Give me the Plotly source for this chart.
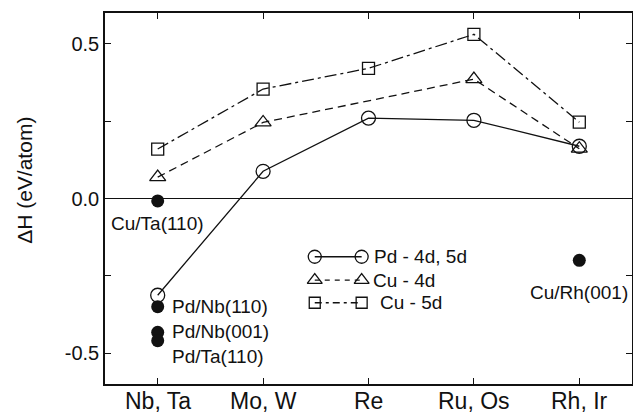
import plotly.graph_objects as go

# Hosts along the x axis
hosts = ["Nb, Ta", "Mo, W", "Re", "Ru, Os", "Rh, Ir"]
host_idx = [0, 1, 2, 3, 4]

# Formation enthalpies (eV/atom)
pd_4d5d = [-0.313, 0.088, 0.260, 0.253, 0.169]
cu_4d_x = [0, 1, 3, 4]
cu_4d = [0.069, 0.246, 0.386, 0.161]
cu_5d = [0.160, 0.354, 0.421, 0.531, 0.247]

# Reference systems (filled symbols)
ref_names = ["Cu/Ta(110)", "Pd/Nb(110)", "Pd/Nb(001)", "Pd/Ta(110)", "Cu/Rh(001)"]
ref_x = [0, 0, 0, 0, 4]
ref_y = [-0.008, -0.350, -0.433, -0.460, -0.200]

FONT = "Liberation Sans, Arial, sans-serif"
LW = 1.3
BLACK = "#111111"

fig = go.Figure()

fig.add_trace(go.Scatter(
    x=host_idx, y=pd_4d5d, mode="lines+markers", name="Pd - 4d, 5d",
    line=dict(color=BLACK, width=LW),
    marker=dict(symbol="circle-open", size=14, color=BLACK, line=dict(width=1.3)),
))
fig.add_trace(go.Scatter(
    x=cu_4d_x, y=cu_4d, mode="lines+markers", name="Cu - 4d",
    line=dict(color=BLACK, width=LW, dash="8px,5px"),
    marker=dict(symbol="triangle-up-open", size=14, color=BLACK, line=dict(width=1.3)),
))
fig.add_trace(go.Scatter(
    x=host_idx, y=cu_5d, mode="lines+markers", name="Cu - 5d",
    line=dict(color=BLACK, width=LW, dash="12px,4px,3px,4px"),
    marker=dict(symbol="square-open", size=12, color=BLACK, line=dict(width=1.3)),
))
fig.add_trace(go.Scatter(
    x=ref_x, y=ref_y, mode="markers", name="reference",
    marker=dict(symbol="circle", size=13, color=BLACK),
))

# Labels next to the filled symbols
label_offsets = {
    "Cu/Ta(110)": dict(xanchor="center", xshift=0, yshift=-23),
    "Pd/Nb(110)": dict(xanchor="left", xshift=12, yshift=0),
    "Pd/Nb(001)": dict(xanchor="left", xshift=12, yshift=1),
    "Pd/Ta(110)": dict(xanchor="left", xshift=12, yshift=-16),
    "Cu/Rh(001)": dict(xanchor="center", xshift=0, yshift=-32),
}
for name, x, y in zip(ref_names, ref_x, ref_y):
    o = label_offsets[name]
    fig.add_annotation(x=x, y=y, text=name, showarrow=False,
                       xanchor=o["xanchor"], yanchor="middle",
                       xshift=o["xshift"], yshift=o["yshift"],
                       font=dict(family=FONT, size=19, color=BLACK))

# Host names under the frame, set close to the axis
for i, h in zip(host_idx, hosts):
    fig.add_annotation(x=i, y=0, xref="x", yref="paper", text=h,
                       showarrow=False, xanchor="center", yanchor="top",
                       yshift=-3, borderpad=0,
                       font=dict(family=FONT, size=23, color=BLACK))

# Legend key drawn on an overlay axis in plot-fraction units
legend_rows = [
    ("Pd - 4d, 5d", "circle-open", "solid", 13, 0.343, 0.507),
    ("Cu - 4d", "triangle-up-open", "5px,5px", 13, 0.280, 0.504),
    ("Cu - 5d", "square-open", "7px,4px,3px,4px", 11, 0.219, 0.518),
]
for label, sym, dash, sz, yk, xt in legend_rows:
    fig.add_trace(go.Scatter(
        x=[0.398, 0.487], y=[yk, yk], xaxis="x2", yaxis="y2",
        mode="lines+markers", showlegend=False, hoverinfo="skip",
        line=dict(color=BLACK, width=LW, dash=dash),
        marker=dict(symbol=sym, size=sz, color=BLACK, line=dict(width=1.3)),
    ))
    fig.add_annotation(x=xt, y=yk, xref="x2", yref="y2", text=label,
                       showarrow=False, xanchor="left", yanchor="middle",
                       font=dict(family=FONT, size=19, color=BLACK))

# y-axis title
fig.add_annotation(x=-0.152, y=0.55, xref="paper", yref="paper",
                   text="ΔH (eV/atom)", textangle=-90, showarrow=False,
                   xanchor="center", yanchor="middle",
                   font=dict(family=FONT, size=21, color=BLACK))

fig.update_layout(
    width=633, height=416,
    margin=dict(l=105, r=1, t=13, b=32, autoexpand=False),
    paper_bgcolor="white", plot_bgcolor="white",
    showlegend=False,
    font=dict(family=FONT, color=BLACK),
    xaxis=dict(
        range=[-0.5, 4.5], tickvals=host_idx, showticklabels=False,
        showgrid=False, zeroline=False,
        showline=True, linecolor=BLACK, linewidth=1.5, mirror="ticks",
        ticks="inside", ticklen=6, tickwidth=1.2, tickcolor=BLACK,
    ),
    yaxis=dict(
        range=[-0.6, 0.6],
        tickvals=[-0.5, -0.25, 0.0, 0.25, 0.5],
        ticktext=["-0.5", "", "0.0", "", "0.5"],
        showgrid=False,
        zeroline=True, zerolinecolor=BLACK, zerolinewidth=1.3,
        showline=True, linecolor=BLACK, linewidth=1.5, mirror="ticks",
        ticks="inside", ticklen=6, tickwidth=1.2, tickcolor=BLACK,
        tickfont=dict(family=FONT, size=20, color=BLACK),
    ),
    xaxis2=dict(range=[0, 1], overlaying="x", visible=False, fixedrange=True),
    yaxis2=dict(range=[0, 1], overlaying="y", visible=False, fixedrange=True),
)

fig.write_html("out.html")
